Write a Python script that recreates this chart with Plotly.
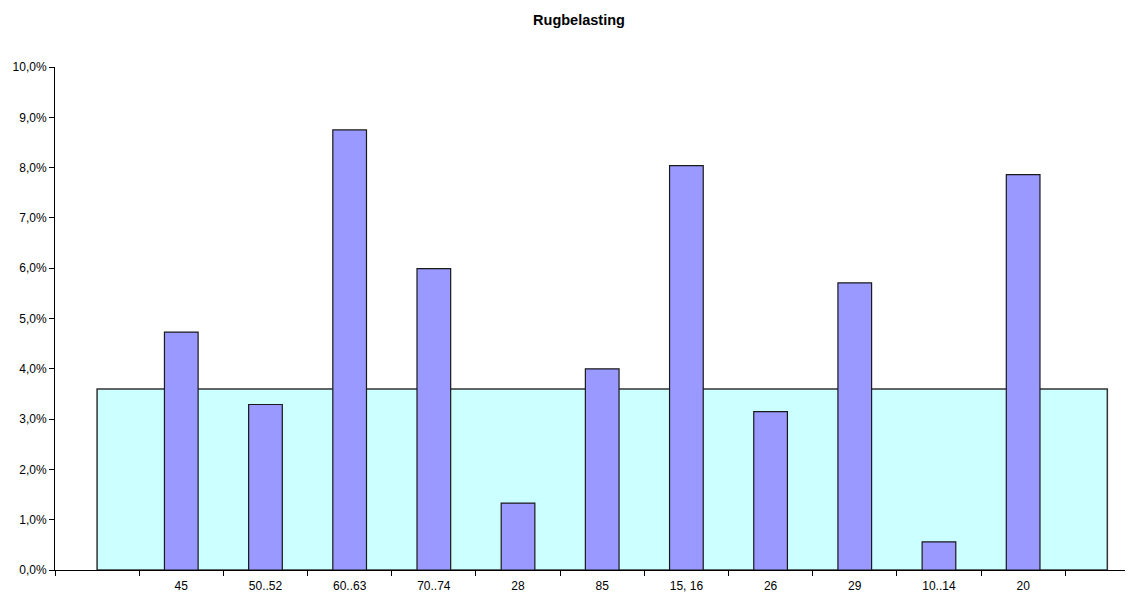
import plotly.graph_objects as go

categories = [" ", "45", "50..52", "60..63", "70..74", "28", "85", "15, 16", "26", "29", "10..14", "20", "  "]
values = [None, 0.0473, 0.0329, 0.0875, 0.0599, 0.0133, 0.0400, 0.0804, 0.0315, 0.0571, 0.0056, 0.0786, None]
average = 0.0360

fig = go.Figure()

# background area from first to last category centre
fig.add_trace(go.Bar(
    x=[categories[6]], y=[average], width=[len(categories) - 1],
    marker=dict(color="#CCFFFF", line=dict(color="#333333", width=1.5)),
    hoverinfo="skip", showlegend=False,
))

fig.add_trace(go.Bar(
    x=categories, y=values, width=0.4,
    marker=dict(color="#9999FF", line=dict(color="#1a1a1a", width=1.2)),
    showlegend=False,
))

fig.update_layout(
    width=1133, height=593,
    barmode="overlay",
    separators=", ",
    paper_bgcolor="white", plot_bgcolor="white",
    margin=dict(l=47, r=0, t=59, b=31, autoexpand=False),
    font=dict(family="Liberation Sans, Arial, sans-serif", size=12, color="black"),
    title=dict(text="<b>Rugbelasting</b>", x=571 / 1133, xanchor="center",
               y=1 - 12 / 593, yanchor="middle", xref="container", yref="container",
               font=dict(size=14.5, color="black")),
    xaxis=dict(
        type="category", categoryorder="array", categoryarray=categories,
        range=[-0.5, 12.4], tickson="boundaries", ticks="outside", ticklen=5,
        tickcolor="black", showline=True, linecolor="black", linewidth=1,
        showgrid=False, zeroline=False, tickfont=dict(size=12),
        ticklabelstandoff=5,
    ),
    yaxis=dict(
        range=[0, 0.1], dtick=0.01, tick0=0, tickformat=".1%",
        ticks="outside", ticklen=5, tickcolor="black",
        showline=True, linecolor="black", linewidth=1,
        showgrid=False, zeroline=False, tickfont=dict(size=12),
    ),
)

fig.write_html("out.html")
